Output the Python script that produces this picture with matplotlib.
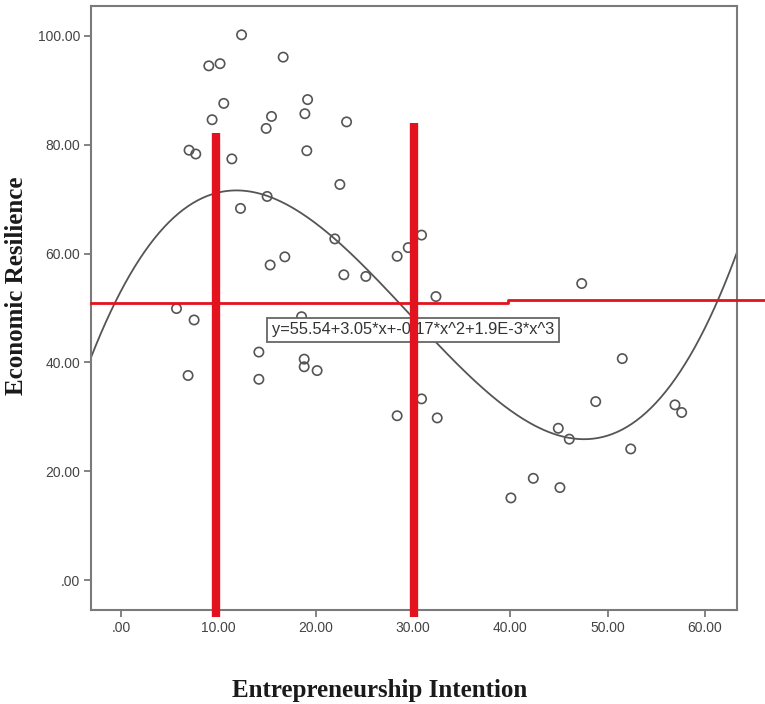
import numpy as np
import matplotlib.pyplot as plt

# scatter values
ei = [12.35, 8.98, 10.14, 16.63, 10.52, 9.32, 15.43, 14.88, 19.14, 18.86,
      23.15, 6.95, 7.64, 11.35, 19.06, 22.46, 14.98, 12.24, 21.94, 16.80,
      15.29, 22.87, 25.13, 28.35, 29.49, 5.66, 7.47, 30.86, 32.34, 47.33,
      51.50, 48.77, 56.92, 57.61, 44.92, 46.05, 52.37, 42.35, 45.09, 30.86,
      28.35, 32.47, 40.05, 6.85, 14.13, 14.13, 18.79, 18.79, 20.12, 18.52]
er = [100.2, 94.5, 94.9, 96.1, 87.6, 84.6, 85.2, 83.0, 88.3, 85.7,
      84.2, 79.0, 78.3, 77.4, 78.9, 72.7, 70.5, 68.3, 62.7, 59.4,
      57.9, 56.1, 55.8, 59.5, 61.1, 49.9, 47.8, 63.4, 52.1, 54.5,
      40.7, 32.8, 32.2, 30.8, 27.9, 25.9, 24.1, 18.7, 17.0, 33.3,
      30.2, 29.8, 15.1, 37.6, 41.9, 36.9, 40.6, 39.2, 38.5, 48.4]

xticks = [0, 10, 20, 30, 40, 50, 60]
xticklabels = [".00", "10.00", "20.00", "30.00", "40.00", "50.00", "60.00"]
yticks = [0, 20, 40, 60, 80, 100]
yticklabels = [".00", "20.00", "40.00", "60.00", "80.00", "100.00"]

equation = "y=55.54+3.05*x+-0.17*x^2+1.9E-3*x^3"
vlines_x = [9.7, 30.1]
vlines_top = [82.1, 84.0]
hline_y = [50.9, 51.4]
hline_step_x = 39.75

xmin, xmax = -3.13, 63.3
ymin, ymax = -5.5, 105.5

fig = plt.figure(figsize=(7.65, 7.04), dpi=100)
ax = fig.add_axes([0.119, 0.1335, 0.8444, 0.858])

frame = "#7a7a7a"
red = "#e3121f"

# cubic fit through the points (SPSS style curve)
coef = np.polyfit(ei, er, 3)
xs = np.linspace(xmin, xmax, 400)
ax.plot(xs, np.polyval(coef, xs), color="#555555", lw=1.3, zorder=2)

ax.scatter(ei, er, s=45, facecolors="none", edgecolors="#555555",
           linewidths=1.2, zorder=3)

ax.text(30.0, 45.96, equation, ha="center", va="center", fontsize=11.8,
        family="Liberation Sans", color="#333333", zorder=4,
        bbox=dict(boxstyle="square,pad=0.28", fc="white", ec="#666666", lw=1.3))

# red annotation lines
for vx, vt in zip(vlines_x, vlines_top):
    ax.plot([vx, vx], [vt, -6.8], color=red, lw=6, solid_capstyle="butt",
            clip_on=False, zorder=6)
ax.plot([xmin, hline_step_x, hline_step_x, 66.3],
        [hline_y[0], hline_y[0], hline_y[1], hline_y[1]],
        color=red, lw=2, clip_on=False, zorder=5)

ax.set_xlim(xmin, xmax)
ax.set_ylim(ymin, ymax)
ax.set_xticks(xticks)
ax.set_xticklabels(xticklabels)
ax.set_yticks(yticks)
ax.set_yticklabels(yticklabels)
for sp in ax.spines.values():
    sp.set_color(frame)
    sp.set_linewidth(1.5)
ax.tick_params(length=5, width=1.3, color=frame, labelsize=10,
               labelcolor="#444444", pad=3)
for lab in ax.get_xticklabels() + ax.get_yticklabels():
    lab.set_family("Liberation Sans")

fig.text(17 / 765, 1 - 286 / 704, "Economic Resilience", rotation=90,
         ha="center", va="center", fontsize=18, fontweight="bold",
         family="Liberation Serif", color="#1a1a1a")
fig.text(380 / 765, 1 - 690 / 704, "Entrepreneurship Intention",
         ha="center", va="center", fontsize=18, fontweight="bold",
         family="Liberation Serif", color="#1a1a1a")

fig.savefig("out.png", dpi=100, facecolor="white")
